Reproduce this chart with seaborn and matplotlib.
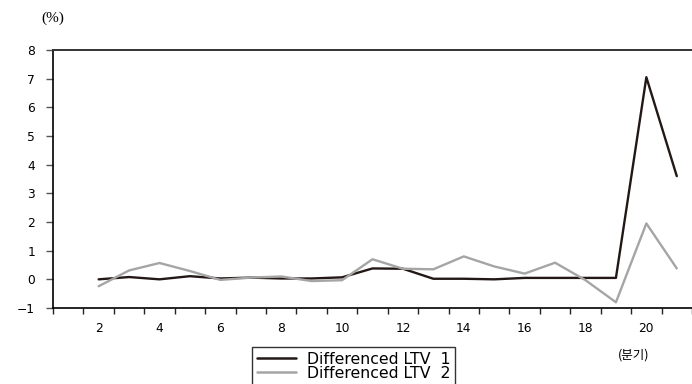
import numpy as np
import pandas as pd
import matplotlib
matplotlib.use("Agg")
import matplotlib.pyplot as plt
import seaborn as sns

# --- data ---
quarters = list(range(2, 22))
ltv1 = [0.00, 0.08, 0.00, 0.11, 0.03, 0.06, 0.03, 0.03, 0.07, 0.38,
        0.37, 0.02, 0.02, 0.00, 0.05, 0.05, 0.05, 0.05, 7.05, 3.60]
ltv2 = [-0.24, 0.31, 0.57, 0.29, -0.02, 0.06, 0.10, -0.06, -0.03, 0.70,
        0.37, 0.35, 0.80, 0.45, 0.20, 0.58, -0.03, -0.80, 1.95, 0.38]
series_names = ["Differenced LTV  1", "Differenced LTV  2"]
x_tick_labels = [2, 4, 6, 8, 10, 12, 14, 16, 18, 20]
y_ticks = [-1, 0, 1, 2, 3, 4, 5, 6, 7, 8]

df = pd.DataFrame({
    "quarter": quarters * 2,
    "value": ltv1 + ltv2,
    "series": [series_names[0]] * len(quarters) + [series_names[1]] * len(quarters),
})

sns.set_style("ticks")
plt.rcParams["font.family"] = ["DejaVu Sans", "Noto Sans CJK KR"]
plt.rcParams["text.color"] = "black"
plt.rcParams["xtick.labelcolor"] = "black"
plt.rcParams["ytick.labelcolor"] = "black"

fig = plt.figure(figsize=(6.92, 3.84), dpi=100)
ax = fig.add_axes([53 / 692, 1 - 308 / 384, 1 - 53 / 692, (308 - 50) / 384])

sns.lineplot(data=df, x="quarter", y="value", hue="series",
             palette=["#231815", "#a5a5a5"], lw=1.7, ax=ax, legend=True)

ax.set_xlim(0.5, 0.5 + (692 - 53) / 30.45)
ax.set_ylim(-1, 8)
ax.set_xlabel("")
ax.set_ylabel("")

# major ticks on category boundaries, labels centred between them
ax.set_xticks(np.arange(0.5, 22, 1))
ax.set_xticklabels([])
ax.set_xticks(x_tick_labels, minor=True)
ax.set_xticklabels([str(v) for v in x_tick_labels], minor=True, fontsize=8.8)
ax.tick_params(axis="x", which="major", length=4, width=1, color="#222222", direction="out")
ax.tick_params(axis="x", which="minor", length=0, pad=10)

ax.set_yticks(y_ticks)
ax.set_yticklabels([f"{v}".replace("-", "\u2212") for v in y_ticks], fontsize=8.8)
ax.tick_params(axis="y", length=5, width=1, color="#555555", pad=8)

for side in ["left", "bottom"]:
    ax.spines[side].set_color("black")
    ax.spines[side].set_linewidth(1.2)
ax.spines["top"].set_color("#333333")
ax.spines["top"].set_linewidth(1.4)
ax.spines["right"].set_visible(False)

handles, labels = ax.get_legend_handles_labels()
ax.get_legend().remove()
leg = fig.legend(handles, labels, loc="upper left",
                 bbox_to_anchor=(252 / 692, 1 - 347 / 384),
                 frameon=True, fancybox=False, fontsize=11.3,
                 handlelength=2.5, handletextpad=0.7, labelspacing=-0.05,
                 borderpad=0.3, borderaxespad=0)
leg.get_frame().set_edgecolor("black")
leg.get_frame().set_linewidth(1.0)
for line in leg.get_lines():
    line.set_linewidth(1.8)

fig.text(53 / 692, 1 - 18 / 384, "(%)", ha="center", va="center",
         family=["Liberation Serif"], fontsize=11)
fig.text(634 / 692, 1 - 355 / 384, "(분기)", ha="center", va="center",
         family=["Noto Sans CJK KR", "DejaVu Sans"], fontsize=9)

fig.savefig("out.png", dpi=100)
plt.close(fig)
